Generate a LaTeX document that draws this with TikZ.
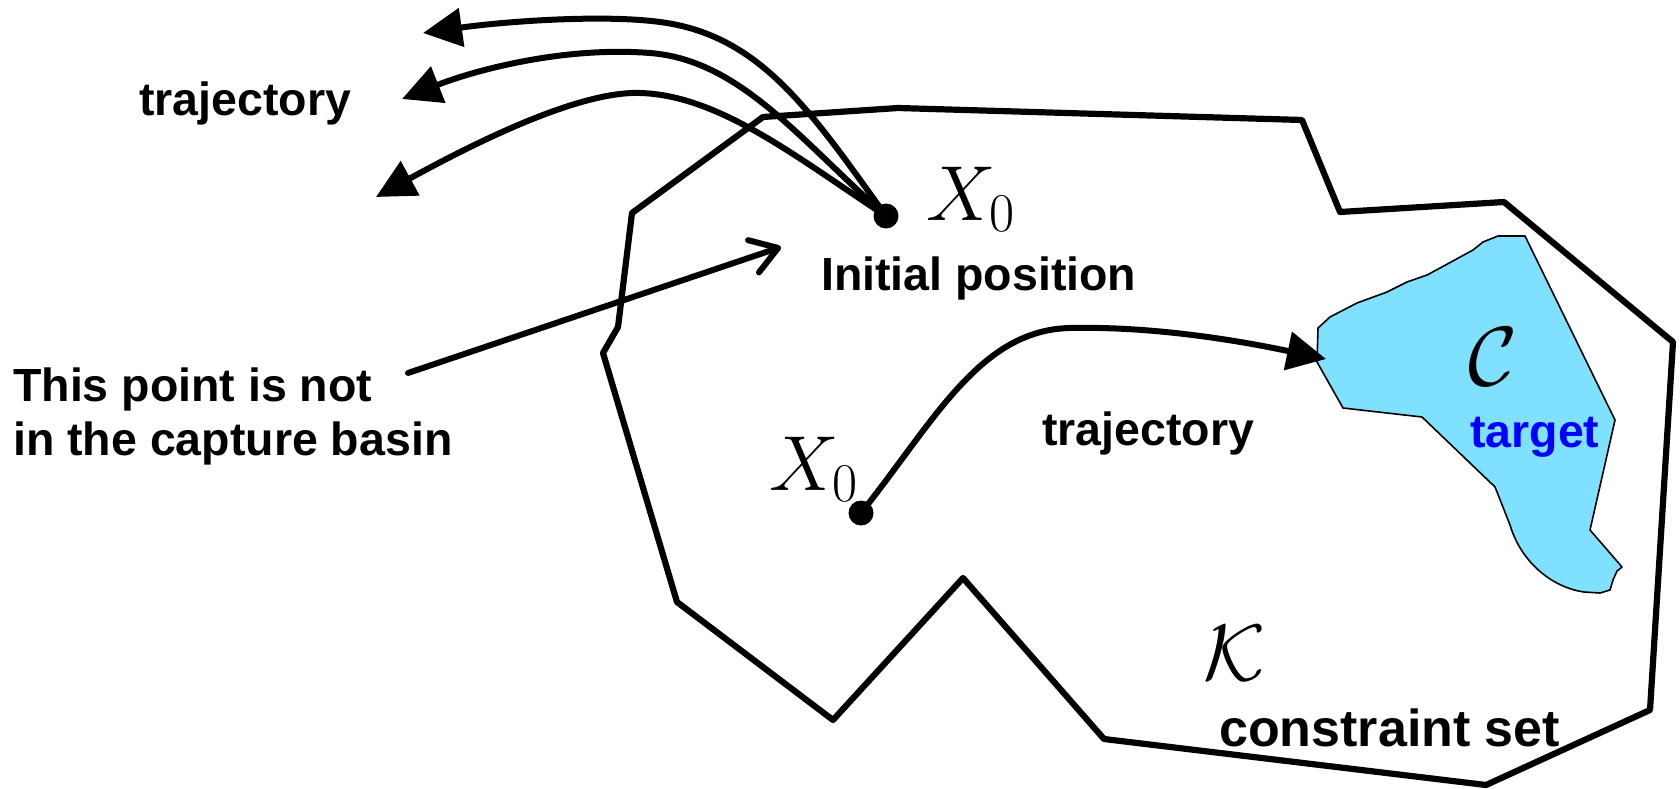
\RequirePackage{fix-cm}
\documentclass[tikz,border=0pt]{standalone}
\usepackage[no-math]{fontspec}
\setmainfont{Liberation Sans}
\usetikzlibrary{arrows.meta}
\definecolor{tgtfill}{RGB}{128,224,255}
\definecolor{tgtblue}{RGB}{0,0,255}
\begin{document}
\begin{tikzpicture}[x=1pt,y=-1pt,
  lbl/.style={inner sep=0pt, anchor=base west, font=\fontsize{46.5}{50}\selectfont\bfseries},
  mth/.style={inner sep=0pt, anchor=base west},
  bnd/.style={line width=6.2pt, line join=round},
  traj/.style={line width=6pt, -{Triangle[length=39pt,width=38pt]}},
  ptr/.style={line width=6pt, line cap=round, -{Straight Barb[length=26pt,width=34pt,round]}},
  dotst/.style={circle, fill=black, inner sep=0pt, minimum size=25pt},
  tgt/.style={fill=tgtfill, draw=black, line width=1.6pt, line join=round}]
\useasboundingbox (0,0) rectangle (1680,789);
% constraint set boundary
\draw[bnd] (763,117) -- (898,108) -- (1302,120) -- (1340,212) -- (1504,202)
  -- (1673,342) -- (1650,710) -- (1486,785) -- (1104,739) -- (963,578)
  -- (833,720) -- (677,602) -- (603,353) -- (618,327) -- (632,213) -- cycle;
% target
\draw[tgt] (1498,236) -- (1525,236) -- (1615,420) -- (1590,530) -- (1622,567)
  -- (1617,571) -- (1613,580) -- (1610,590) -- (1600,593) -- (1584,592)
  .. controls (1555,588) and (1522,565) .. (1510,525) -- (1497,492) -- (1495,487)
  -- (1422,417) -- (1343,408) -- (1317,362) -- (1318,328) -- (1330,317)
  -- (1357,303) -- (1387,292) -- (1407,282) -- (1427,275) -- (1440,268)
  -- (1473,250) -- (1483,242) -- cycle;
% dots
\node[dotst] (dot1) at (886,216) {};
\node[dotst] (dot2) at (861,513) {};
% coordinates for free ends
\coordinate (t1) at (423,33);
\coordinate (t2) at (402,99);
\coordinate (t3) at (376,197);
\coordinate (tin) at (1326,359);
\coordinate (pstart) at (408,373);
\coordinate (pend) at (781,247);
% escaping trajectories
\draw[traj] (dot1.center) .. controls (810,110) and (760,35) .. (660,22)
  .. controls (600,14) and (500,22) .. (t1);
\draw[traj] (dot1.center) .. controls (800,140) and (740,60) .. (650,53)
  .. controls (560,46) and (470,72) .. (t2);
\draw[traj] (dot1.center) .. controls (800,160) and (720,95) .. (640,93)
  .. controls (580,91) and (480,140) .. (t3);
% captured trajectory
\draw[traj] (dot2.center) .. controls (935,420) and (980,330) .. (1070,328)
  .. controls (1160,326) and (1250,343) .. (tin);
% pointer
\draw[ptr] (pstart) -- (pend);
% labels
\node[lbl] (trajA) at (139,116) {trajectory};
\node[lbl] (init) at (821,290) {Initial position};
\node[lbl] (np1) at (13,401) {This point is not};
\node[lbl] (np2) at (13,455) {in the capture basin};
\node[lbl] (trajB) at (1042,445) {trajectory};
\node[lbl, text=tgtblue] (tgtlbl) at (1470,447) {target};
\node[lbl, font=\fontsize{52}{56}\selectfont\bfseries] (cset) at (1219,746) {constraint set};
% math symbols
\node[mth, font=\fontsize{78}{80}\selectfont] (x0a) at (926,220) {$X_0$};
\node[mth, font=\fontsize{78}{80}\selectfont] (x0b) at (769,490) {$X_0$};
\node[mth, font=\fontsize{84}{86}\selectfont] (cC) at (1468,385) {$\mathcal{C}$};
\node[mth, font=\fontsize{80}{82}\selectfont] (kK) at (1203,680) {$\mathcal{K}$};
\end{tikzpicture}
\end{document}
